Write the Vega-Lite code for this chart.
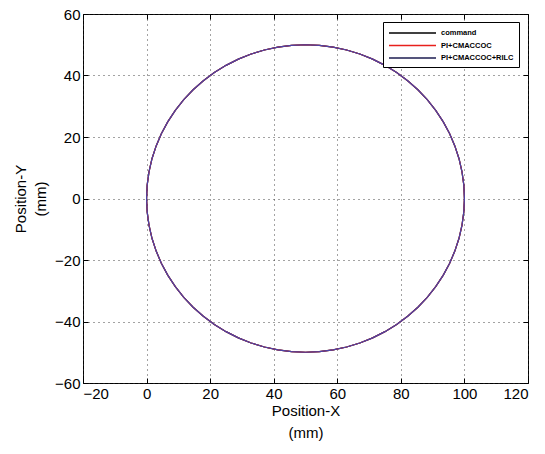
{
 "$schema": "https://vega.github.io/schema/vega-lite/v6.json",
 "width": 445,
 "height": 369,
 "autosize": {"type": "none"},
 "padding": {"left": 83, "top": 14, "right": 17, "bottom": 71},
 "background": "white",
 "config": {
  "view": {"stroke": "black", "strokeWidth": 1},
  "font": "Liberation Sans Narrow, Liberation Sans, Arial",
  "axis": {
   "domain": false,
   "tickColor": "black",
   "tickSize": -5,
   "labelColor": "black",
   "labelFont": "Liberation Sans Narrow, Liberation Sans, Arial",
   "labelFontSize": 15,
   "titleFont": "Liberation Sans Narrow, Liberation Sans, Arial",
   "titleFontSize": 15,
   "titleFontWeight": "normal",
   "titleColor": "black",
   "gridColor": "#333333",
   "gridDash": [1, 4],
   "gridWidth": 1,
   "gridOpacity": 0.9
  }
 },
 "data": {"values": [
  {"t":0,"x":100,"y":0},{"t":1,"x":99.81,"y":4.36},{"t":2,"x":99.24,"y":8.68},{"t":3,"x":98.30,"y":12.94},
  {"t":4,"x":96.98,"y":17.10},{"t":5,"x":95.32,"y":21.13},{"t":6,"x":93.30,"y":25.00},{"t":7,"x":90.96,"y":28.68},
  {"t":8,"x":88.30,"y":32.14},{"t":9,"x":85.36,"y":35.36},{"t":10,"x":82.14,"y":38.30},{"t":11,"x":78.68,"y":40.96},
  {"t":12,"x":75.00,"y":43.30},{"t":13,"x":71.13,"y":45.32},{"t":14,"x":67.10,"y":46.98},{"t":15,"x":62.94,"y":48.30},
  {"t":16,"x":58.68,"y":49.24},{"t":17,"x":54.36,"y":49.81},{"t":18,"x":50,"y":50},{"t":19,"x":45.64,"y":49.81},
  {"t":20,"x":41.32,"y":49.24},{"t":21,"x":37.06,"y":48.30},{"t":22,"x":32.90,"y":46.98},{"t":23,"x":28.87,"y":45.32},
  {"t":24,"x":25.00,"y":43.30},{"t":25,"x":21.32,"y":40.96},{"t":26,"x":17.86,"y":38.30},{"t":27,"x":14.64,"y":35.36},
  {"t":28,"x":11.70,"y":32.14},{"t":29,"x":9.04,"y":28.68},{"t":30,"x":6.70,"y":25.00},{"t":31,"x":4.68,"y":21.13},
  {"t":32,"x":3.02,"y":17.10},{"t":33,"x":1.70,"y":12.94},{"t":34,"x":0.76,"y":8.68},{"t":35,"x":0.19,"y":4.36},
  {"t":36,"x":0,"y":0},{"t":37,"x":0.19,"y":-4.36},{"t":38,"x":0.76,"y":-8.68},{"t":39,"x":1.70,"y":-12.94},
  {"t":40,"x":3.02,"y":-17.10},{"t":41,"x":4.68,"y":-21.13},{"t":42,"x":6.70,"y":-25.00},{"t":43,"x":9.04,"y":-28.68},
  {"t":44,"x":11.70,"y":-32.14},{"t":45,"x":14.64,"y":-35.36},{"t":46,"x":17.86,"y":-38.30},{"t":47,"x":21.32,"y":-40.96},
  {"t":48,"x":25.00,"y":-43.30},{"t":49,"x":28.87,"y":-45.32},{"t":50,"x":32.90,"y":-46.98},{"t":51,"x":37.06,"y":-48.30},
  {"t":52,"x":41.32,"y":-49.24},{"t":53,"x":45.64,"y":-49.81},{"t":54,"x":50,"y":-50},{"t":55,"x":54.36,"y":-49.81},
  {"t":56,"x":58.68,"y":-49.24},{"t":57,"x":62.94,"y":-48.30},{"t":58,"x":67.10,"y":-46.98},{"t":59,"x":71.13,"y":-45.32},
  {"t":60,"x":75.00,"y":-43.30},{"t":61,"x":78.68,"y":-40.96},{"t":62,"x":82.14,"y":-38.30},{"t":63,"x":85.36,"y":-35.36},
  {"t":64,"x":88.30,"y":-32.14},{"t":65,"x":90.96,"y":-28.68},{"t":66,"x":93.30,"y":-25.00},{"t":67,"x":95.32,"y":-21.13},
  {"t":68,"x":96.98,"y":-17.10},{"t":69,"x":98.30,"y":-12.94},{"t":70,"x":99.24,"y":-8.68},{"t":71,"x":99.81,"y":-4.36},
  {"t":72,"x":100,"y":0}
 ]},
 "layer": [
  {
   "mark": {"type": "line", "strokeWidth": 1.2},
   "encoding": {
    "x": {"field": "x", "type": "quantitative", "scale": {"domain": [-20, 120], "nice": false, "zero": false},
          "axis": {"orient": "bottom", "values": [-20,0,20,40,60,80,100,120], "grid": true, "title": ["Position-X", "(mm)"], "titleLineHeight": 22, "labelPadding": 8, "titlePadding": 2}},
    "y": {"field": "y", "type": "quantitative", "scale": {"domain": [-60, 60], "nice": false, "zero": false},
          "axis": {"orient": "left", "values": [-60,-40,-20,0,20,40,60], "grid": true, "title": ["Position-Y", "(mm)"], "titleLineHeight": 20, "labelPadding": 8, "titlePadding": 6}},
    "order": {"field": "t"},
    "color": {"datum": "command", "type": "nominal",
      "scale": {"domain": ["command", "PI+CMACCOC", "PI+CMACCOC+RILC"], "range": ["black", "#e8201c", "#1c1c50"]},
      "legend": {"orient": "none", "legendX": 300, "legendY": 8, "title": null, "symbolType": "M-1,0H8.4",
                 "symbolSize": 100, "symbolStrokeWidth": 1.5, "symbolOpacity": 1, "symbolFillColor": "transparent", "labelFont": "Liberation Sans", "labelFontWeight": "bold", "labelFontSize": 7.5,
                 "labelColor": "black", "strokeColor": "black", "fillColor": "white", "padding": 5, "rowPadding": 2.5, "labelOffset": 41, "cornerRadius": 0}}
   }
  },
  {
   "mark": {"type": "line", "strokeWidth": 1.2},
   "encoding": {
    "x": {"field": "x", "type": "quantitative", "axis": {"orient": "top", "values": [-20,0,20,40,60,80,100,120], "labels": false, "grid": false, "title": null}},
    "y": {"field": "y", "type": "quantitative", "axis": {"orient": "right", "values": [-60,-40,-20,0,20,40,60], "labels": false, "grid": false, "title": null}},
    "order": {"field": "t"},
    "color": {"datum": "PI+CMACCOC", "type": "nominal"}
   }
  },
  {
   "mark": {"type": "line", "strokeWidth": 1.2, "color": "#4a44a8"},
   "encoding": {
    "x": {"field": "x", "type": "quantitative", "axis": null},
    "y": {"field": "y", "type": "quantitative", "axis": null},
    "order": {"field": "t"}
   }
  }
 ],
 "resolve": {"axis": {"x": "independent", "y": "independent"}}
}
